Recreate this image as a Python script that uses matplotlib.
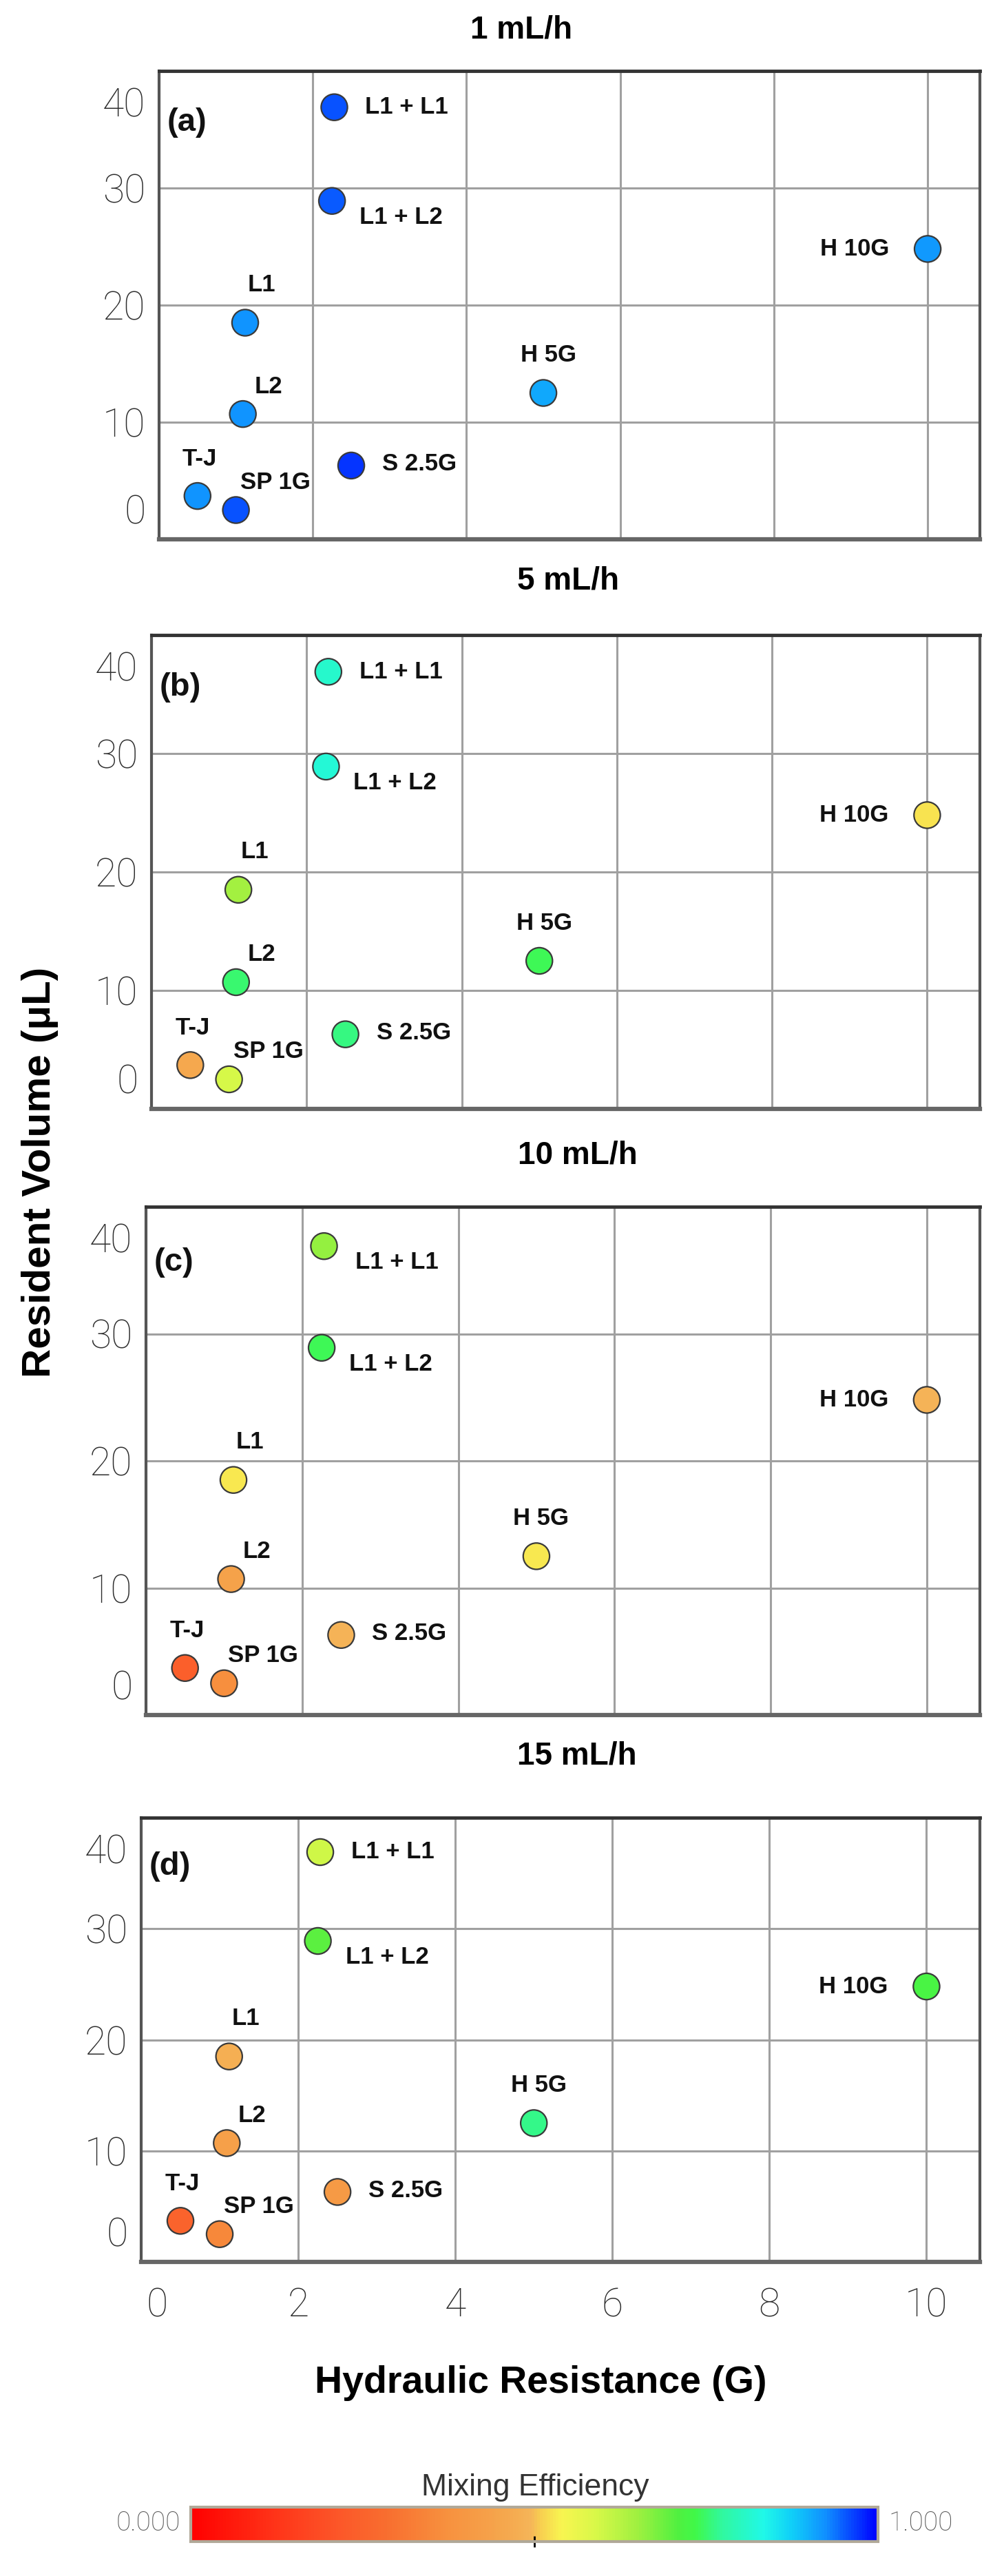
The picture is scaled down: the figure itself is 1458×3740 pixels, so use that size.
import matplotlib
matplotlib.use("Agg")
import matplotlib.pyplot as plt
from matplotlib.colors import LinearSegmentedColormap, Normalize
from matplotlib.cm import ScalarMappable
from matplotlib.transforms import ScaledTranslation

# data
names = ["T-J", "SP 1G", "L1", "L2", "L1 + L1", "L1 + L2", "S 2.5G", "H 5G", "H 10G"]
resistance = [0.5, 1.0, 1.12, 1.09, 2.28, 2.25, 2.5, 5.0, 10.0]
volume = [3.7, 2.5, 18.5, 10.7, 36.9, 28.9, 6.3, 12.5, 24.8]

flow_rates = ["1 mL/h", "5 mL/h", "10 mL/h", "15 mL/h"]
panel_tags = ["(a)", "(b)", "(c)", "(d)"]

# mixing efficiency per flow rate (same order as names)
eff_1 = [0.92, 0.955, 0.92, 0.92, 0.955, 0.95, 0.97, 0.905, 0.915]
eff_5 = [0.46, 0.59, 0.645, 0.75, 0.81, 0.82, 0.76, 0.74, 0.525]
eff_10 = [0.24, 0.37, 0.53, 0.44, 0.66, 0.74, 0.49, 0.53, 0.49]
eff_15 = [0.25, 0.35, 0.48, 0.43, 0.60, 0.70, 0.41, 0.765, 0.72]
efficiencies = [eff_1, eff_5, eff_10, eff_15]

x_ticks = [0, 2, 4, 6, 8, 10]
y_ticks = [0, 10, 20, 30, 40]

# colour scale of the legend bar
cmap_pos = [0.0, 0.12, 0.21, 0.29, 0.37, 0.46, 0.495, 0.51, 0.54, 0.59, 0.65,
            0.71, 0.735, 0.775, 0.835, 0.875, 0.925, 0.958, 1.0]
cmap_cols = ["#ff0000", "#ff3318", "#fc5528", "#f87030", "#f7903e", "#f5a84e",
             "#f5b558", "#f8d050", "#f8f550", "#d8f848", "#a0f040", "#50f040",
             "#40f848", "#30f8a0", "#20f8e8", "#10d0f8", "#1090ff", "#0850ff", "#0000ff"]
cmap = LinearSegmentedColormap.from_list("mix", list(zip(cmap_pos, cmap_cols)))
norm = Normalize(0, 1)

# label offsets in pixels (dx, dy, ha)
offsets = {
    "T-J": (3, 54, "center"),
    "SP 1G": (6, 40, "left"),
    "L1": (24, 55, "center"),
    "L2": (37, 40, "center"),
    "L1 + L1": (45, 0, "left"),
    "L1 + L2": (40, -24, "left"),
    "S 2.5G": (45, 2, "left"),
    "H 5G": (7, 55, "center"),
    "H 10G": (-56, 0, "right"),
}

W, H = 1458, 3740
fig = plt.figure(figsize=(W / 100, H / 100), dpi=100)
label_font = "Liberation Sans"
tick_font = "Roboto"


def rect(l, t, r, b):
    return [l / W, 1 - b / H, (r - l) / W, (b - t) / H]


boxes = [(231, 103, 1423, 783), (220, 922, 1423, 1610),
         (212, 1752, 1423, 2490), (205, 2639, 1423, 3284)]
title_pos = [(757, 44), (825, 843), (839, 1677), (838, 2550)]

for i, box in enumerate(boxes):
    ax = fig.add_axes(rect(*box))
    ax.set_xlim(0, 10.68)
    ax.set_ylim(0, 40)
    ax.set_xticks(x_ticks)
    ax.set_yticks(y_ticks)
    ax.grid(True, color="#a0a0a0", lw=2.2, zorder=0)
    ax.set_axisbelow(True)
    for side in ["left", "right"]:
        ax.spines[side].set_color("#555555")
        ax.spines[side].set_linewidth(3)
    ax.spines["top"].set_color("#333333")
    ax.spines["top"].set_linewidth(3.5)
    ax.spines["bottom"].set_color("#666666")
    ax.spines["bottom"].set_linewidth(4.5)

    ax.tick_params(length=0, labelsize=41, labelcolor="#2e2e2e", pad=14)
    ax.set_yticklabels([str(v) for v in y_ticks], fontfamily=tick_font, fontweight="light")
    if i == 3:
        ax.set_xticklabels([str(v) for v in x_ticks], fontfamily=tick_font, fontweight="light")
        ax.tick_params(axis="x", pad=26)
        for lab in ax.get_xticklabels():
            if lab.get_text() == "0":
                lab.set_transform(lab.get_transform() + ScaledTranslation(0.23, 0, fig.dpi_scale_trans))
    else:
        ax.set_xticklabels([])
    for lab in ax.get_yticklabels():
        if lab.get_text() == "0":
            lab.set_transform(lab.get_transform() + ScaledTranslation(0, 0.44, fig.dpi_scale_trans))
        elif lab.get_text() == "40":
            lab.set_transform(lab.get_transform() + ScaledTranslation(0, -0.45, fig.dpi_scale_trans))

    ax.scatter(resistance, volume, c=efficiencies[i], cmap=cmap, norm=norm,
               s=760, edgecolors="#3a3a3a", linewidths=1.6, zorder=3, clip_on=False)

    for name, xv, yv in zip(names, resistance, volume):
        dx, dy, ha = offsets[name]
        if i == 2 and name == "L1 + L1":
            dy = -23
        ax.annotate(name, (xv, yv), xytext=(dx, dy), textcoords="offset pixels",
                    ha=ha, va="center", fontsize=25, fontweight="bold",
                    fontfamily=label_font, color="#111111", zorder=4)

    ax.text(0.1, 35.6, panel_tags[i], ha="left", va="center", fontsize=34,
            fontweight="bold", fontfamily=label_font, color="#111111")

    tx, ty = title_pos[i]
    fig.text(tx / W, 1 - ty / H, flow_rates[i], ha="center", va="center",
             fontsize=33, fontweight="bold", fontfamily=label_font)

fig.text(785 / W, 1 - 3460 / H, "Hydraulic Resistance (G)", ha="center", va="center",
         fontsize=40, fontweight="bold", fontfamily=label_font)
fig.text(58 / W, 1 - 1702 / H, "Resident Volume (\u03bcL)", ha="center", va="center",
         rotation=90, fontsize=42, fontweight="bold", fontfamily=label_font)

# colour legend
cax = fig.add_axes(rect(277, 3640, 1275, 3690))
cb = fig.colorbar(ScalarMappable(norm=norm, cmap=cmap), cax=cax, orientation="horizontal")
cb.outline.set_edgecolor("#b0a898")
cb.outline.set_linewidth(3)
cb.set_ticks([0.5])
cb.set_ticklabels([""])
cax.tick_params(axis="x", length=12, width=2, color="black", direction="inout")
fig.text(777 / W, 1 - 3612 / H, "Mixing Efficiency", ha="center", va="center",
         fontsize=32, fontfamily=label_font, color="#333333")
fig.text(262 / W, 1 - 3663 / H, "0.000", ha="right", va="center", fontsize=28,
         fontfamily=tick_font, fontweight="light", color="#555555")
fig.text(1290 / W, 1 - 3663 / H, "1.000", ha="left", va="center", fontsize=28,
         fontfamily=tick_font, fontweight="light", color="#555555")

fig.savefig("out.png", dpi=100, facecolor="white")
